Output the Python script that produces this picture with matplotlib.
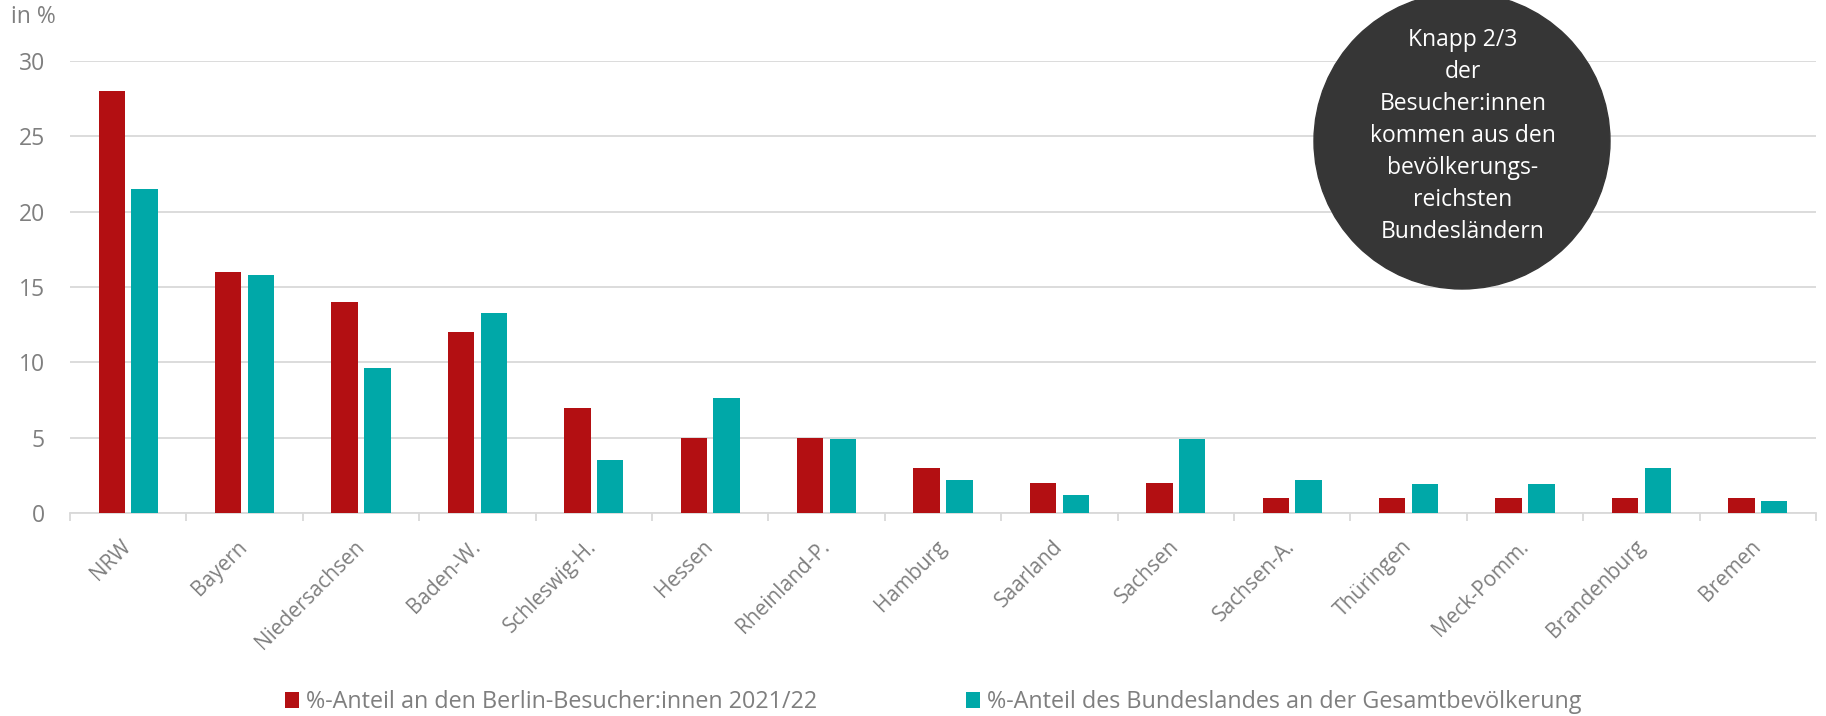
import matplotlib.pyplot as plt
from matplotlib.patches import Circle
import numpy as np

plt.rcParams['font.family'] = ['Open Sans', 'DejaVu Sans']

laender = ["NRW", "Bayern", "Niedersachsen", "Baden-W.", "Schleswig-H.", "Hessen",
           "Rheinland-P.", "Hamburg", "Saarland", "Sachsen", "Sachsen-A.", "Thüringen",
           "Meck-Pomm.", "Brandenburg", "Bremen"]
besucher = [28, 16, 14, 12, 7, 5, 5, 3, 2, 2, 1, 1, 1, 1, 1]
bevoelkerung = [21.5, 15.8, 9.6, 13.3, 3.5, 7.6, 4.9, 2.2, 1.2, 4.9, 2.2, 1.9, 1.9, 3.0, 0.8]

label_besucher = "%-Anteil an den Berlin-Besucher:innen 2021/22"
label_bevoelkerung = "%-Anteil des Bundeslandes an der Gesamtbevölkerung"
kreis_text = "Knapp 2/3\nder\nBesucher:innen\nkommen aus den\nbevölkerungs-\nreichsten\nBundesländern"

rot = "#B30F12"
tuerkis = "#00A8A8"
grau = "#7F7F7F"
gitter = "#D9D9D9"

W, H = 1826, 716
fig = plt.figure(figsize=(W / 100, H / 100), dpi=100)
ax = fig.add_axes([70 / W, (H - 513) / H, (1816 - 70) / W, (513 - 61) / H])

x = np.arange(len(laender))
ax.bar(x - 0.141, besucher, width=0.226, color=rot, label=label_besucher, zorder=3)
ax.bar(x + 0.141, bevoelkerung, width=0.226, color=tuerkis, label=label_bevoelkerung, zorder=3)

ax.set_xlim(-0.5, len(laender) - 0.5)
ax.set_ylim(0, 30)
ax.set_yticks([0, 5, 10, 15, 20, 25, 30])
ax.yaxis.grid(True, color=gitter, linewidth=1.3, zorder=0)
ax.set_axisbelow(True)
for s in ["top", "right", "left"]:
    ax.spines[s].set_visible(False)
ax.spines["bottom"].set_color(gitter)
ax.spines["bottom"].set_linewidth(1.3)

ax.tick_params(axis="y", length=0, pad=18, labelsize=16.5, labelcolor=grau)
ax.set_xticks(x)
ax.set_xticklabels(laender, rotation=45, ha="right", va="center", rotation_mode="anchor",
                   fontsize=15, color=grau)
ax.tick_params(axis="x", which="major", length=0, pad=22)
ax.set_xticks(np.arange(-0.5, len(laender), 1), minor=True)
ax.tick_params(axis="x", which="minor", length=6, width=1.3, color=gitter)

fig.text(11 / W, (H - 17) / H, "in %", fontsize=16.5, color=grau, ha="left", va="center")

kreis = Circle((14.62, (H - 141) / 100), 1.48, transform=fig.dpi_scale_trans,
               color="#363636", zorder=10)
fig.patches.append(kreis)
fig.text(1463 / W, (H - 136) / H, kreis_text, color="white", fontsize=16.5,
         ha="center", va="center", linespacing=1.44, zorder=11)

leg = fig.legend(loc="center", bbox_to_anchor=(933 / W, (H - 702) / H), ncol=2,
                 frameon=False, fontsize=16.8, handlelength=0.6, handleheight=0.65,
                 handletextpad=0.3, columnspacing=6.4)
for t in leg.get_texts():
    t.set_color(grau)

fig.savefig("out.png", dpi=100)
